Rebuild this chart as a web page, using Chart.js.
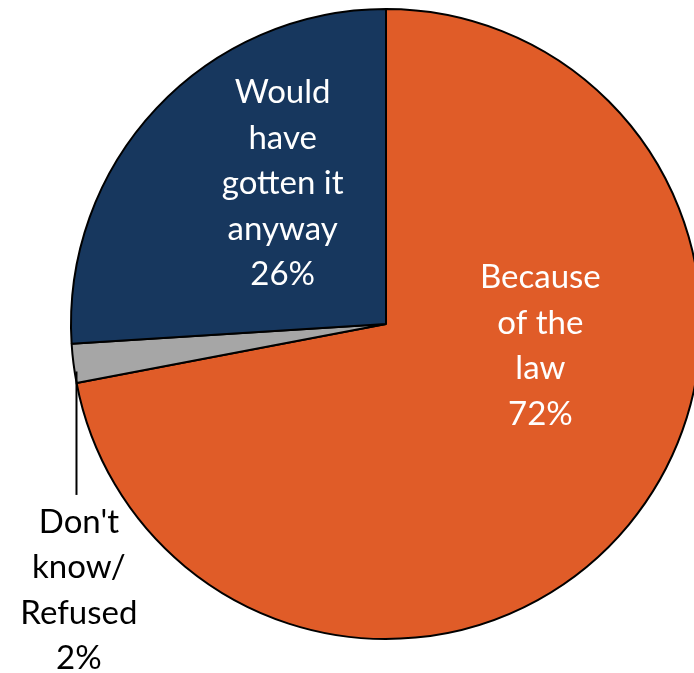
<!DOCTYPE html>
<html>
<head>
<meta charset="utf-8">
<script src="https://cdn.jsdelivr.net/npm/chart.js@4/dist/chart.umd.min.js"></script>
<style>
    html, body { margin: 0; padding: 0; background: #ffffff; overflow: hidden; }
    #wrap { width: 694px; height: 673px; overflow: hidden; }
</style>
</head>
<body>
<div id="wrap">
    <canvas id="pie" width="712" height="673"></canvas>
</div>
<script>
// Data
var categories = ["Because of the law", "Don't know/ Refused", "Would have gotten it anyway"];
var shares = [72, 2, 26];
var labelLines = [
    ["Because", "of the", "law"],
    ["Don't", "know/", "Refused"],
    ["Would", "have", "gotten it", "anyway"]
];
var sliceColors = ['#E05C28', '#A6A6A6', '#17375E'];

// where each label sits, relative to the pie center, in units of radius
var labelSpots = [
    { dx: 0.49, dy: 0.07, color: '#FFFFFF' },
    { dx: -0.975, dy: 0.845, color: '#000000', leader: true },
    { dx: -0.328, dy: -0.445, color: '#FFFFFF' }
];

var sliceLabels = {
    id: 'sliceLabels',
    afterDraw: function (chart) {
        var ctx = chart.ctx;
        var arcs = chart.getDatasetMeta(0).data;
        var lineH = 45.5;
        ctx.save();
        ctx.font = "33px Lato, 'Open Sans', sans-serif";
        ctx.textAlign = 'center';
        ctx.textBaseline = 'middle';
        arcs.forEach(function (arc, i) {
            var r = arc.outerRadius;
            var spot = labelSpots[i];
            var x = arc.x + spot.dx * r;
            var y = arc.y + spot.dy * r;
            var lines = labelLines[i].concat([shares[i] + '%']);
            var top = y - (lines.length - 1) * lineH / 2;

            if (spot.leader) {
                // short line from the slice down to its label
                var mid = (arc.startAngle + arc.endAngle) / 2;
                var lx = arc.x + Math.cos(mid) * r + 3;
                ctx.strokeStyle = '#000000';
                ctx.lineWidth = 2;
                ctx.beginPath();
                ctx.moveTo(lx, arc.y + Math.sin(mid) * r + 8);
                ctx.lineTo(lx, top - 27);
                ctx.stroke();
            }

            ctx.fillStyle = spot.color;
            lines.forEach(function (t, k) {
                ctx.fillText(t, x, top + k * lineH);
            });
        });
        ctx.restore();
    }
};

var pie = new Chart(document.getElementById('pie').getContext('2d'), {
    type: 'pie',
    data: {
        labels: categories,
        datasets: [{
            data: shares,
            backgroundColor: sliceColors,
            borderColor: '#000000',
            borderWidth: 2
        }]
    },
    options: {
        responsive: false,
        animation: false,
        layout: { padding: { left: 70, top: 8, right: 10, bottom: 33 } },
        plugins: {
            legend: { display: false },
            tooltip: { enabled: false }
        }
    },
    plugins: [sliceLabels]
});
</script>
</body>
</html>
